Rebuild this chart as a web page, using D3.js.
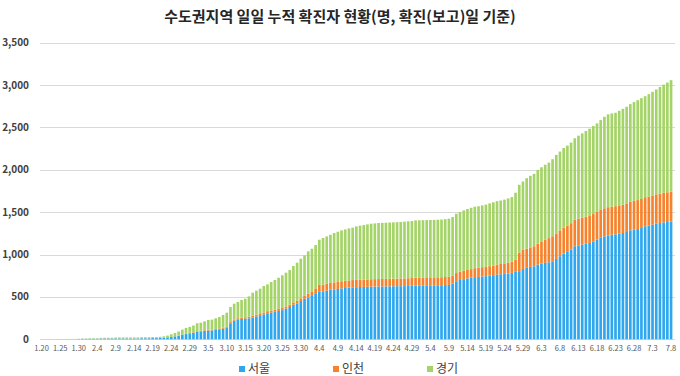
<!DOCTYPE html>
<html>
<head>
<meta charset="utf-8">
<script src="https://cdn.jsdelivr.net/npm/d3@7"></script>
<style>
  body { margin: 0; background: #fff; }
  text { font-family: "Noto Sans CJK KR", "Noto Sans", sans-serif; }
  .grid line { stroke: #d9d9d9; stroke-width: 1; }
  .x-axis text { font-size: 7.5px; fill: #595959; }
  .y-label { font-size: 10px; font-weight: bold; fill: #404040; }
</style>
</head>
<body>
<div id="chart"></div>
<script>
// cumulative confirmed cases per region, one value per day (1.20 ~ 7.8)
const seoul = [
  0,0,0,0,1,1,1,1,1,1, 3,6,6,7,7,7,9,10,10,10, 10,10,10,10,10,10,10,12,12,12, 14,14,16,18,23,27,35,40,55,62, 70,77,
  90,94,98,103,105,110,118,125,135,190, 220,235,240,244,248,258,270,285,293,308, 315,324,335,344,362,381,408,424,452,479,
  492,511,535,566,566,574,585,590,594,601, 605,609,613,615,617,
  618,620,621,622,623,624,624,625,626,627, 627,628,629,631,635,636,636,637,637,637, 638,638,640,642,656,685,700,710,718,726,
  733,736,741,745,752,757,764,768,772,776, 784,796,
  804,831,843,855,862,882,894,902,909,921, 949,980,1011,1031,1058,1098,1109,1117,1129,1137,
  1156,1176,1203,1215,1227,1235,1238,1247,1254,1266, 1286,1294,1301,1313,1333,1341,1352,1364,1372,1380, 1384,1390
];
const incheon = [
  1,1,1,1,1,1,1,1,1,1, 1,1,1,1,1,1,1,1,1,1, 1,1,1,1,1,1,1,1,1,1, 1,1,1,1,1,1,1,2,3,4, 5,6,
  6,7,8,9,9,10,10,11,12,13, 13,14,15,16,18,20,21,22,23,24, 24,25,25,26,26,27,28,30,32,38,
  46,55,66,76,79,80,81,82,83,84, 85,86,86,87,87,
  87,87,88,88,88,88,89,89,90,90, 91,91,92,92,93,93,93,94,94,94, 94,95,95,96,96,97,98,99,100,102,
  106,107,110,110,111,112,118,121,124,126, 133,145,
  220,225,228,230,236,247,262,274,285,295, 300,305,308,310,312,314,315,316,317,318,
  322,328,330,331,332,332,333,334,335,338, 339,340,342,343,344,345,346,347,348,350, 351,352
];
const gyeonggi = [
  0,0,0,0,0,0,1,2,2,2, 2,2,3,5,5,5,7,7,7,7, 10,11,11,11,11,11,11,11,11,11, 11,11,13,16,20,31,38,50,57,68, 72,80,
  93,95,106,116,118,128,135,151,167,177, 187,191,209,219,241,272,283,290,313,316, 337,351,367,385,398,409,429,450,467,473,
  500,503,511,533,550,560,568,582,592,600, 607,614,618,630,637,
  643,649,655,658,661,662,663,664,664,665, 666,669,671,672,675,675,676,676,677,678, 679,680,683,685,691,700,703,712,719,724,
  726,727,729,734,741,748,748,749,752,760, 761,789,
  799,806,830,844,854,870,874,884,891,909, 927,930,938,945,952,960,979,997,1012,1030,
  1039,1044,1054,1080,1095,1099,1102,1116,1131,1140, 1150,1165,1179,1190,1192,1207,1222,1237,1258,1275, 1295,1316
];

const seriesNames = ['서울', '인천', '경기'];
const seriesColors = ['#2ea7ee', '#f7822c', '#a4d468'];
const tickLabels = ['1.20','1.25','1.30','2.4','2.9','2.14','2.19','2.24','2.29','3.5','3.10','3.15','3.20','3.25','3.30',
  '4.4','4.9','4.14','4.19','4.24','4.29','5.4','5.9','5.14','5.19','5.24','5.29','6.3','6.8','6.13','6.18','6.23','6.28','7.3','7.8'];
const yTicks = [0, 500, 1000, 1500, 2000, 2500, 3000, 3500];
const title = '수도권지역 일일 누적 확진자 현황(명, 확진(보고)일 기준)';

// one category per day
const days = d3.timeDay.range(new Date(2020, 0, 20), new Date(2020, 6, 9))
    .map(d => `${d.getMonth() + 1}.${d.getDate()}`);

const rows = days.map((day, i) => ({day: day, '서울': seoul[i], '인천': incheon[i], '경기': gyeonggi[i]}));

const width = 680, height = 376;
const svg = d3.select('#chart').append('svg')
    .attr('width', width)
    .attr('height', height);

const xScale = d3.scaleBand()
    .domain(days)
    .range([39.8, 672.9])
    .paddingInner(0.28)
    .paddingOuter(0.14);

const yScale = d3.scaleLinear()
    .domain([0, 3500])
    .range([339.3, 42.7]);

// gridlines
svg.append('g')
    .attr('class', 'grid')
  .selectAll('line')
    .data(yTicks)
  .join('line')
    .attr('x1', 40)
    .attr('x2', 675)
    .attr('y1', d => Math.round(yScale(d)) + 0.5)
    .attr('y2', d => Math.round(yScale(d)) + 0.5);

svg.append('g')
  .selectAll('text')
    .data(yTicks)
  .join('text')
    .attr('class', 'y-label')
    .attr('x', 29)
    .attr('y', d => yScale(d))
    .attr('dy', '0.35em')
    .attr('text-anchor', 'end')
    .text(d3.format(','));

// stacked bars
const stacked = d3.stack().keys(seriesNames)(rows);

svg.append('g')
  .selectAll('g')
    .data(stacked)
  .join('g')
    .attr('fill', (d, i) => seriesColors[i])
  .selectAll('rect')
    .data(d => d)
  .join('rect')
    .attr('x', d => xScale(d.data.day))
    .attr('width', xScale.bandwidth())
    .attr('y', d => yScale(d[1]))
    .attr('height', d => yScale(d[0]) - yScale(d[1]));

// x axis (labels only)
const xAxis = d3.axisBottom(xScale)
    .tickValues(tickLabels)
    .tickSize(0)
    .tickPadding(6);

svg.append('g')
    .attr('class', 'x-axis')
    .attr('transform', `translate(0,${yScale(0)})`)
    .call(xAxis)
    .call(g => g.select('.domain').remove());

// title
svg.append('text')
    .attr('x', 340)
    .attr('y', 22)
    .attr('text-anchor', 'middle')
    .attr('font-size', 15)
    .attr('font-weight', 'bold')
    .attr('fill', '#262626')
    .text(title);

// legend
const legendX = [239, 333, 427];
const legend = svg.append('g')
  .selectAll('g')
    .data(seriesNames)
  .join('g')
    .attr('transform', (d, i) => `translate(${legendX[i]},369)`);

legend.append('rect')
    .attr('x', 0)
    .attr('y', -3)
    .attr('width', 6)
    .attr('height', 6)
    .attr('fill', (d, i) => seriesColors[i]);

legend.append('text')
    .attr('x', 9)
    .attr('dy', '0.35em')
    .attr('font-size', 12)
    .attr('fill', '#404040')
    .text(d => d);
</script>
</body>
</html>
